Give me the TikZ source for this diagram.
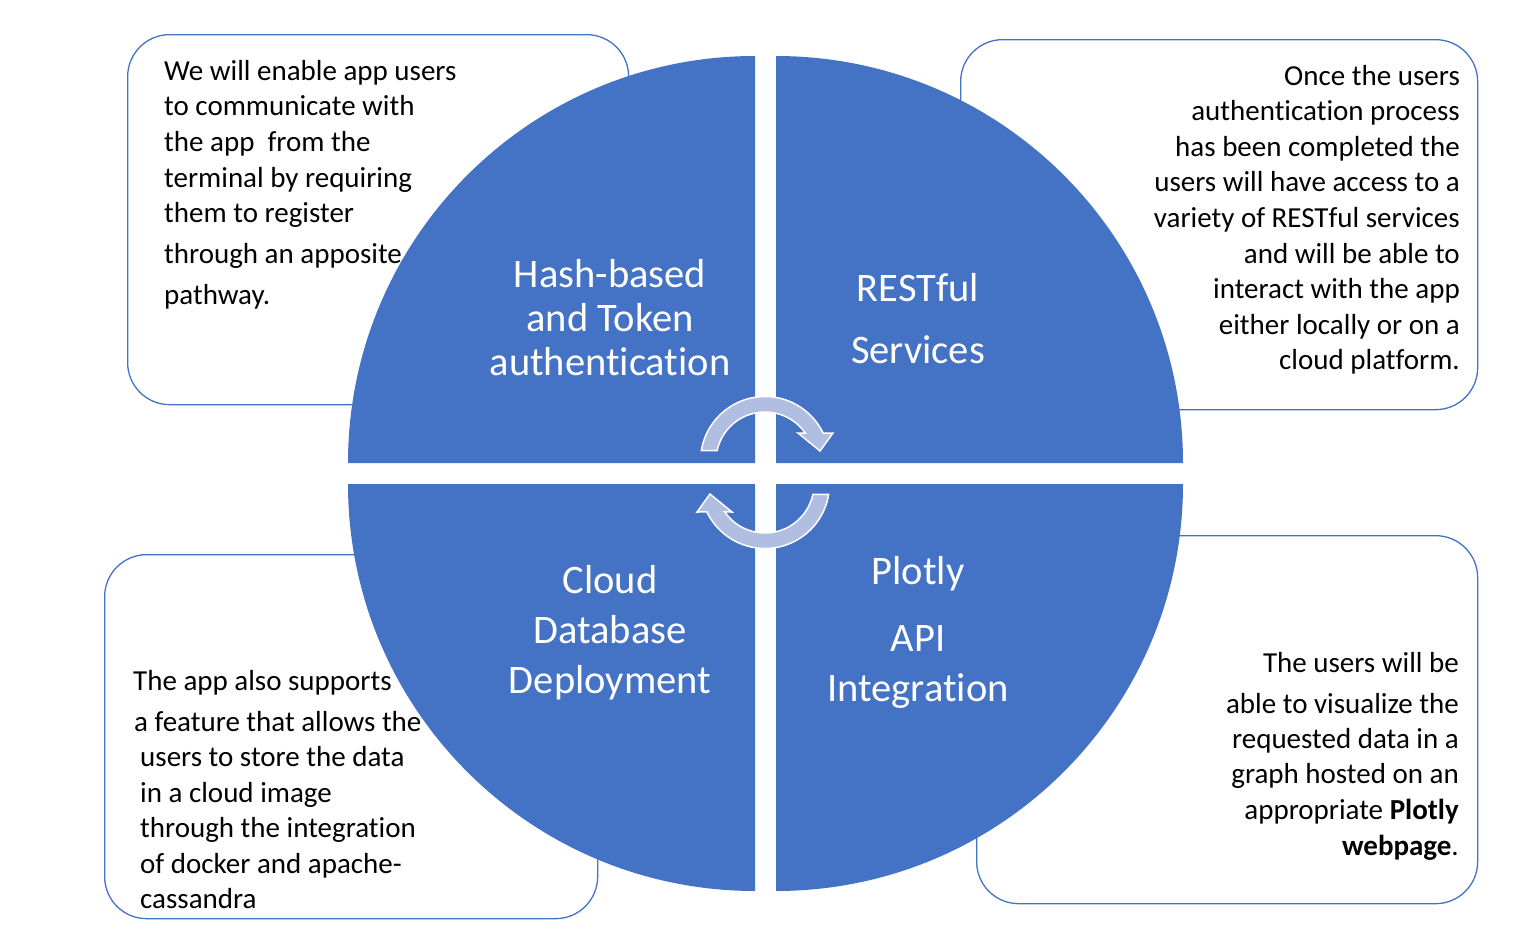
\documentclass[tikz,border=0pt]{standalone}
\usepackage{fontspec}
\setmainfont[RawFeature=-liga]{Carlito}
\definecolor{qblue}{HTML}{4472C4}
\definecolor{arrowfill}{RGB}{176,190,226}
\begin{document}
\begin{tikzpicture}[x=1pt,y=1pt,
  infobox/.style={draw=qblue, line width=1.3pt, rounded corners=42pt, fill=white, inner sep=0pt},
  quad/.style={fill=qblue},
  desc/.style={font=\fontsize{29}{35}\selectfont, inner sep=0pt, text=black},
  qlabel/.style={font=\fontsize{40.5}{44}\selectfont, inner sep=0pt, text=white, anchor=base},
  cyc/.style={fill=arrowfill, draw=white, line width=1.5pt, line join=miter}
]
\useasboundingbox (0,0) rectangle (1527,-945);
% description boxes
\node[infobox, anchor=north west, minimum width=501pt, minimum height=370pt] (boxTL) at (127,-34) {};
\node[infobox, anchor=north west, minimum width=517pt, minimum height=370pt] (boxTR) at (960,-39) {};
\node[infobox, anchor=north west, minimum width=493pt, minimum height=364pt] (boxBL) at (104,-554) {};
\node[infobox, anchor=north west, minimum width=501pt, minimum height=368pt] (boxBR) at (976,-535) {};
% quadrants
\fill[quad] (755,-463) -- ++(180:407) arc[start angle=180,end angle=90,radius=407] -- cycle;
\fill[quad] (776,-463) -- ++(90:407) arc[start angle=90,end angle=0,radius=407] -- cycle;
\fill[quad] (776,-484) -- ++(0:407) arc[start angle=0,end angle=-90,radius=407] -- cycle;
\fill[quad] (755,-484) -- ++(-90:407) arc[start angle=-90,end angle=-180,radius=407] -- cycle;
% quadrant labels
\node[qlabel] (q1a) at (610,-287) {Hash-based};
\node[qlabel] (q1b) at (610,-331) {and Token};
\node[qlabel] (q1c) at (610,-375) {authentication};
\node[qlabel] (q2a) at (918,-301) {RESTful};
\node[qlabel] (q2b) at (918,-363) {Services};
\node[qlabel] (q3a) at (610,-593) {Cloud};
\node[qlabel] (q3b) at (610,-643) {Database};
\node[qlabel] (q3c) at (610,-693) {Deployment};
\node[qlabel] (q4a) at (918,-584) {Plotly};
\node[qlabel] (q4b) at (918,-651) {API};
\node[qlabel] (q4c) at (918,-701) {Integration};
% description texts
\foreach \yy/\tt [count=\i] in {80/{We will enable app users},115/{to communicate with},151/{the app~ from the},187/{terminal by requiring},222/{them to register},263/{through an apposite},304/{pathway.}}
  \node[desc, anchor=base west] (tl\i) at (164,-\yy) {\tt};
\foreach \yy/\tt [count=\i] in {85/{Once the users},120.6/{authentication process},156.2/{has been completed the},191.8/{users will have access to a},227.4/{variety of RESTful services},263/{and will be able to},298.6/{interact with the app},334.2/{either locally or on a},369.8/{cloud platform.}}
  \node[desc, anchor=base east] (tr\i) at (1460,-\yy) {\tt};
\foreach \xx/\yy/\tt [count=\i] in {133/690/{The app also supports},134/731/{a feature that allows the},140/766/{users to store the data},140/802/{in a cloud image},140/837/{through the integration},140/873/{of docker and apache-},140/908/{cassandra}}
  \node[desc, anchor=base west] (bl\i) at (\xx,-\yy) {\tt};
\foreach \yy/\tt [count=\i] in {672/{The users will be},713/{able to visualize the},748/{requested data in a},783/{graph hosted on an},819/{appropriate \textbf{Plotly}},855/{\textbf{webpage}.}}
  \node[desc, anchor=base east] (br\i) at (1459,-\yy) {\tt};
% cycle arrows
\draw[cyc] ([shift={(765,-461)}]170.8:64.5) arc[start angle=170.8,end angle=25.7,radius=64.5]
  -- (833,-433) -- (820,-451) -- (798,-433)
  -- ([shift={(765,-461)}]34.8:49) arc[start angle=34.8,end angle=167.9,radius=49] -- cycle;
\draw[cyc] ([shift={(765,-484)}]-9.2:64.5) arc[start angle=-9.2,end angle=-154.3,radius=64.5]
  -- (697,-512) -- (710,-494) -- (732,-512)
  -- ([shift={(765,-484)}]-145.2:49) arc[start angle=-145.2,end angle=-12.1,radius=49] -- cycle;
\end{tikzpicture}
\end{document}
